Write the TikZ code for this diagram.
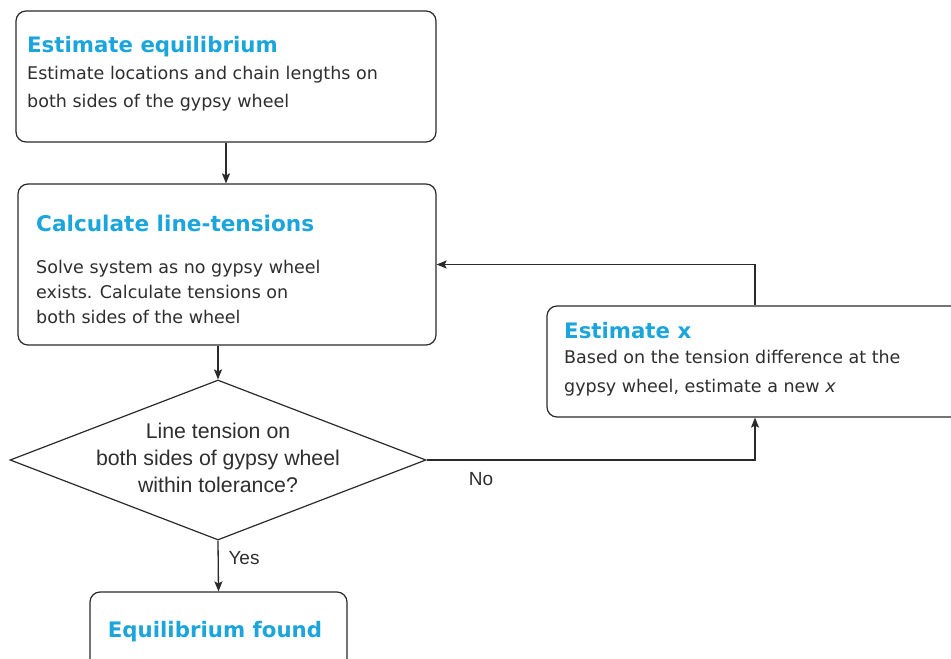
\documentclass[tikz,border=0pt]{standalone}
\usepackage{fontspec}
\setmainfont{DejaVu Sans}
\newfontfamily\arialfont{Liberation Sans}
\usetikzlibrary{arrows.meta,positioning,shapes.geometric}
\definecolor{ttlblue}{HTML}{1BA5DC}
\definecolor{txtgray}{HTML}{2E2E2E}
\definecolor{lngray}{HTML}{2A2A2A}
\begin{document}
\begin{tikzpicture}[x=1pt,y=-1pt,
  box/.style ={rectangle,draw=lngray,line width=1.2pt,rounded corners=10pt,
               fill=white,inner sep=0pt},
  dec/.style ={diamond,draw=lngray,line width=1.2pt,inner sep=0pt,
               minimum width=416pt,minimum height=160pt},
  ttl/.style ={anchor=north west,inner sep=0pt,text=ttlblue,
               font=\fontsize{21.3}{25}\selectfont\bfseries},
  body/.style={anchor=north west,inner sep=0pt,align=left,text=txtgray,
               font=\fontsize{17.5}{28}\selectfont},
  lbl/.style ={inner sep=0pt,align=center,text=txtgray,
               font=\arialfont\fontsize{19}{27}\selectfont},
  arr/.style ={-{Stealth[length=10pt,width=8pt,inset=2pt]},line width=1.3pt,draw=lngray}
]
\path[use as bounding box,clip] (0,0) rectangle (951,659);

\node[box,minimum width=420pt,minimum height=131pt](est) at (226,76.5){};
\node[ttl](estT) at (27,36){Estimate equilibrium};
\node[body](estB) at (27,66){Estimate locations and chain lengths on\\both sides of the gypsy wheel};

\node[box,minimum width=418pt,minimum height=161pt](calc) at (227,264.5){};
\node[ttl,font=\fontsize{21.6}{25}\selectfont\bfseries](calcT) at (36,215){Calculate line-tensions};
\node[body,font=\fontsize{17.5}{25}\selectfont](calcB) at (36,260){Solve system as no gypsy wheel\\exists. Calculate tensions on\\both sides of the wheel};

\node[dec](chk) at (218,460){};
\node[lbl,font=\arialfont\fontsize{21.3}{27}\selectfont](chkT) at (218,458){Line tension on\\both sides of gypsy wheel\\within tolerance?};

\node[box,minimum width=416pt,minimum height=111pt](newx) at (755,361.5){};
\node[ttl](newxT) at (564,322){Estimate x};
\node[body,font=\fontsize{17.5}{29}\selectfont](newxB) at (564,350){Based on the tension difference at the\\gypsy wheel, estimate a new \textit{x}};

\node[box,minimum width=257pt,minimum height=80pt](found) at (218.5,632){};
\node[ttl,anchor=center](foundT) at (215,632){Equilibrium found};

\node[lbl](yes) at (244,558){Yes};
\node[lbl](no) at (481,479){No};

\draw[arr](est.south) -- (est.south |- calc.north);
\draw[arr](chk.north |- calc.south) -- (chk.north);
\draw[arr](chk.south) -- (found.north);
\draw[arr](chk.east) -| (newx.south);
\draw[arr](newx.north) |- (calc.east);
\end{tikzpicture}
\end{document}
